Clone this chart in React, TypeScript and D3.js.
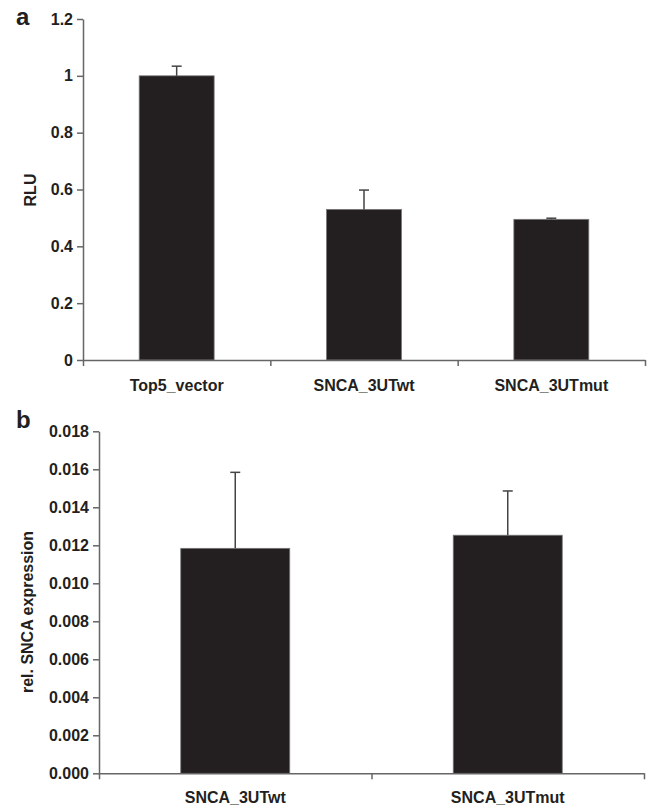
import React, { useRef, useEffect } from "react";
import * as d3 from "d3";

// panel a
const catsA = ["Top5_vector", "SNCA_3UTwt", "SNCA_3UTmut"];
const valsA = [1.0, 0.53, 0.495];
const errA = [0.034, 0.068, 0.004];
const ticksA = [0, 0.2, 0.4, 0.6, 0.8, 1, 1.2];

// panel b
const catsB = ["SNCA_3UTwt", "SNCA_3UTmut"];
const valsB = [0.01184, 0.01253];
const errB = [0.004, 0.00233];
const ticksB = [0, 0.002, 0.004, 0.006, 0.008, 0.01, 0.012, 0.014, 0.016, 0.018];

const FONT = "'Liberation Sans', Arial, sans-serif";
const INK = "#231f20";

const drawPanel = (svg, opts) => {
   const { cats, vals, errs, ticks, fmt, x0, x1, yTop, yBot, max, letter, letterY, ylabel, ylabelX, ylabelY, labelY } = opts;
   const g = svg.append("g");

   const x = d3.scaleBand().domain(cats).range([x0, x1]).padding(0);
   const xl = d3.scaleLinear().domain([0, cats.length]).range([x0, x1]);
   const y = d3.scaleLinear().domain([0, max]).range([yBot, yTop]);
   const bw = x.bandwidth() * 0.4;

   // bars
   g.selectAll(".bar")
      .data(vals)
      .join("rect")
      .attr("x", (d, i) => x(cats[i]) + x.bandwidth() / 2 - bw / 2)
      .attr("y", (d) => y(d))
      .attr("width", bw)
      .attr("height", (d) => yBot - y(d))
      .attr("fill", INK)
      .attr("stroke", "#777")
      .attr("stroke-width", 0.8);

   // error bars
   const eg = g.selectAll(".err").data(vals).join("g");
   eg.append("line")
      .attr("x1", (d, i) => x(cats[i]) + x.bandwidth() / 2)
      .attr("x2", (d, i) => x(cats[i]) + x.bandwidth() / 2)
      .attr("y1", (d) => y(d))
      .attr("y2", (d, i) => y(d + errs[i]))
      .attr("stroke", "#444")
      .attr("stroke-width", 1.5);
   eg.append("line")
      .attr("x1", (d, i) => x(cats[i]) + x.bandwidth() / 2 - 5)
      .attr("x2", (d, i) => x(cats[i]) + x.bandwidth() / 2 + 5)
      .attr("y1", (d, i) => y(d + errs[i]))
      .attr("y2", (d, i) => y(d + errs[i]))
      .attr("stroke", "#444")
      .attr("stroke-width", 1.5);

   // axes
   const yAxis = d3.axisLeft(y).tickValues(ticks).tickFormat(fmt).tickSize(6).tickSizeOuter(0).tickPadding(4);
   const ya = g.append("g").attr("transform", `translate(${x0},0)`).call(yAxis);

   const xAxis = d3
      .axisBottom(xl)
      .tickValues(d3.range(cats.length + 1))
      .tickFormat(() => "")
      .tickSize(6)
      .tickSizeOuter(0);
   const xa = g.append("g").attr("transform", `translate(0,${yBot})`).call(xAxis);

   [ya, xa].forEach((a) => {
      a.selectAll("path, line").attr("stroke", "#666").attr("stroke-width", 1.5);
      a.selectAll("text")
         .attr("fill", INK)
         .style("font-family", FONT)
         .style("font-size", "16px")
         .style("font-weight", "bold");
   });

   // category labels
   g.selectAll(".cat")
      .data(cats)
      .join("text")
      .attr("x", (d) => x(d) + x.bandwidth() / 2)
      .attr("y", labelY)
      .attr("text-anchor", "middle")
      .attr("fill", INK)
      .style("font-family", FONT)
      .style("font-size", "16px")
      .style("font-weight", "bold")
      .text((d) => d);

   // y label
   g.append("text")
      .attr("transform", `translate(${ylabelX},${ylabelY}) rotate(-90)`)
      .attr("text-anchor", "middle")
      .attr("fill", INK)
      .style("font-family", FONT)
      .style("font-size", "16px")
      .style("font-weight", "bold")
      .text(ylabel);

   // panel letter
   g.append("text")
      .attr("x", 16)
      .attr("y", letterY)
      .attr("fill", INK)
      .style("font-family", FONT)
      .style("font-size", "24px")
      .style("font-weight", "bold")
      .text(letter);
};

export default function App() {
   const svgRef = useRef(null);

   useEffect(() => {
      const svg = d3.select(svgRef.current);
      svg.selectAll("*").remove();

      drawPanel(svg, {
         cats: catsA,
         vals: valsA,
         errs: errA,
         ticks: ticksA,
         fmt: d3.format("~g"),
         x0: 83,
         x1: 645,
         yTop: 19,
         yBot: 360,
         max: 1.2,
         letter: "a",
         letterY: 25,
         ylabel: "RLU",
         ylabelX: 36,
         ylabelY: 190,
         labelY: 391,
      });

      drawPanel(svg, {
         cats: catsB,
         vals: valsB,
         errs: errB,
         ticks: ticksB,
         fmt: d3.format(".3f"),
         x0: 99,
         x1: 644,
         yTop: 431.3,
         yBot: 773.3,
         max: 0.018,
         letter: "b",
         letterY: 428,
         ylabel: "rel. SNCA expression",
         ylabelX: 33,
         ylabelY: 612,
         labelY: 803,
      });
   }, []);

   return (
      <svg
         ref={svgRef}
         width={649}
         height={805}
         style={{ position: "absolute", left: 0, top: 0, background: "#fff" }}
      ></svg>
   );
}
